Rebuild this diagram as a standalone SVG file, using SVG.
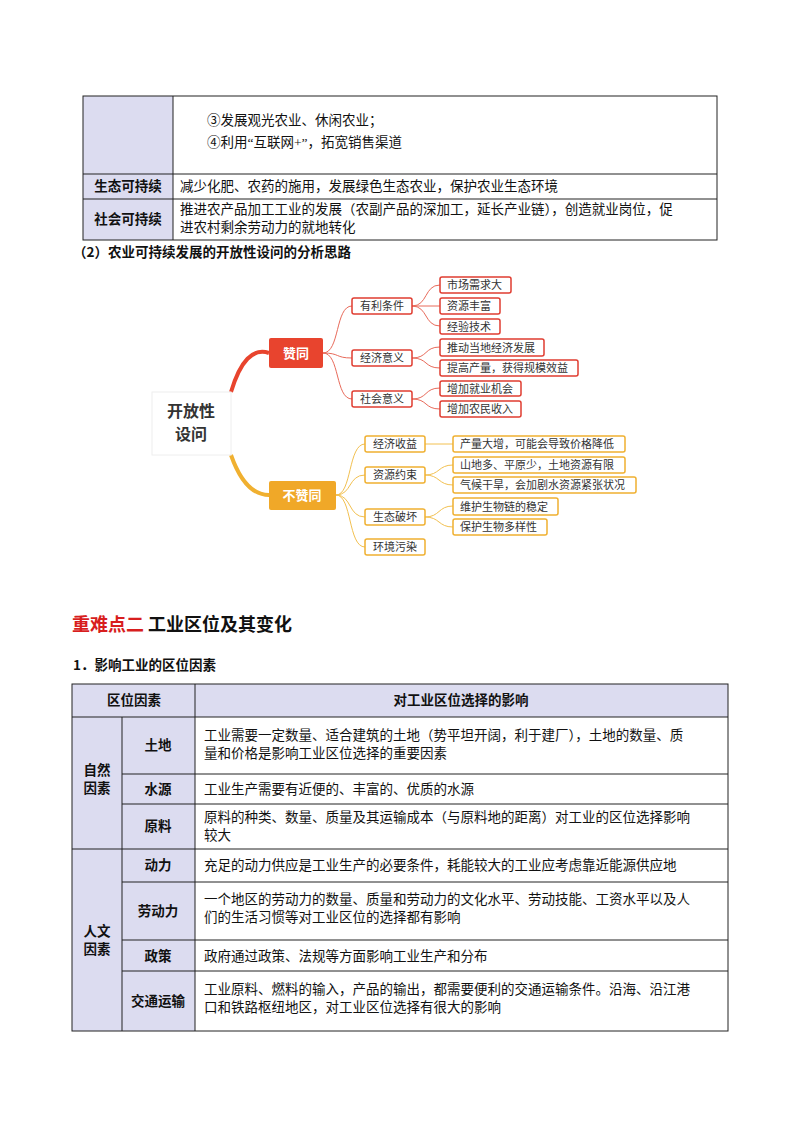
<svg xmlns="http://www.w3.org/2000/svg" width="800" height="1132" viewBox="0 0 800 1132">
<style>
.t{font-family:"Liberation Serif","Noto Sans CJK SC",serif;font-size:13.5px;fill:#111}
.b{font-family:"Noto Sans CJK SC",sans-serif;font-size:13.5px;font-weight:bold;fill:#111}
.g{fill:none;stroke:#222;stroke-width:1}
.sh{fill:#dcdcf0}
.m{font-family:"Noto Sans CJK SC",sans-serif;font-size:11px;fill:#333}
.rb{fill:#fff;stroke:#e03c30;stroke-width:1.5}
.ob{fill:#fff;stroke:#f0b030;stroke-width:1.5}
.rl{fill:none;stroke:#e86a5a;stroke-width:1}
.ol{fill:none;stroke:#f2c050;stroke-width:1}
</style>
<rect width="800" height="1132" fill="#fff"/>
<g id="table1">
<rect class="sh" x="83" y="96" width="90" height="78"/>
<rect class="sh" x="83" y="174" width="90" height="66"/>
<rect class="g" x="83" y="96" width="634" height="144"/>
<line class="g" x1="173" y1="96" x2="173" y2="240"/>
<line class="g" x1="83" y1="174" x2="717" y2="174"/>
<line class="g" x1="83" y1="199" x2="717" y2="199"/>
<text class="t" x="180" y="125">　　③发展观光农业、休闲农业；</text>
<text class="t" x="180" y="147">　　④利用“互联网+”，拓宽销售渠道</text>
<text class="b" x="128" y="191" text-anchor="middle">生态可持续</text>
<text class="t" x="180" y="191">减少化肥、农药的施用，发展绿色生态农业，保护农业生态环境</text>
<text class="b" x="128" y="224" text-anchor="middle">社会可持续</text>
<text class="t" x="180" y="214">推进农产品加工工业的发展（农副产品的深加工，延长产业链），创造就业岗位，促</text>
<text class="t" x="180" y="232">进农村剩余劳动力的就地转化</text>
</g>
<text class="b" x="73" y="257">（2）农业可持续发展的开放性设问的分析思路</text>
<g id="connectors">
<path d="M231,392 Q245,345 269,353" fill="none" stroke="#e8442e" stroke-width="4"/>
<path d="M231,455 Q245,495 269,495" fill="none" stroke="#f0b030" stroke-width="4"/>
<path class="rl" d="M323,353 C340,353 335,306 352,306 M323,353 C340,353 335,358 352,358 M323,353 C340,353 335,399 352,399"/>
<path class="rl" d="M412,306 C428,306 424,285 440,285 M412,306 L440,306 M412,306 C428,306 424,326 440,326"/>
<path class="rl" d="M412,358 C428,358 424,347 440,347 M412,358 C428,358 424,368 440,368"/>
<path class="rl" d="M412,399 C428,399 424,388 440,388 M412,399 C428,399 424,409 440,409"/>
<path class="ol" d="M336,495 C352,495 348,444 365,444 M336,495 C352,495 348,475 365,475 M336,495 C352,495 348,517 365,517 M336,495 C352,495 348,547 365,547"/>
<path class="ol" d="M425,444 L453,444 M425,475 C440,475 438,465 453,465 M425,475 C440,475 438,485 453,485 M425,517 C440,517 438,506 453,506 M425,517 C440,517 438,527 453,527"/>
</g>
<g id="center"><rect x="152" y="392" width="79" height="63" fill="#fff" stroke="#eee"/>
<text x="191" y="417" text-anchor="middle" style="font-family:'Noto Sans CJK SC',sans-serif;font-size:16px;font-weight:bold;fill:#333">开放性</text>
<text x="191" y="440" text-anchor="middle" style="font-family:'Noto Sans CJK SC',sans-serif;font-size:16px;font-weight:bold;fill:#333">设问</text></g>
<g id="zantong"><rect x="269" y="338" width="54" height="30" rx="2" fill="#e8442e"/><text x="296" y="358" text-anchor="middle" style="font-family:'Noto Sans CJK SC',sans-serif;font-size:13px;font-weight:bold;fill:#fff">赞同</text></g>
<g id="buzantong"><rect x="269" y="481" width="67" height="29" rx="2" fill="#f0a828"/><text x="302" y="500" text-anchor="middle" style="font-family:'Noto Sans CJK SC',sans-serif;font-size:13px;font-weight:bold;fill:#fff">不赞同</text></g>
<g id="r1"><rect class="rb" x="352" y="298" width="60" height="16" rx="2"/><text class="m" x="382" y="310" text-anchor="middle">有利条件</text></g>
<g id="r2"><rect class="rb" x="352" y="350" width="60" height="16" rx="2"/><text class="m" x="382" y="362" text-anchor="middle">经济意义</text></g>
<g id="r3"><rect class="rb" x="352" y="391" width="60" height="16" rx="2"/><text class="m" x="382" y="403" text-anchor="middle">社会意义</text></g>
<g id="r11"><rect class="rb" x="440" y="277" width="71" height="16" rx="2"/><text class="m" x="447" y="289">市场需求大</text></g>
<g id="r12"><rect class="rb" x="440" y="298" width="60" height="16" rx="2"/><text class="m" x="447" y="310">资源丰富</text></g>
<g id="r13"><rect class="rb" x="440" y="319" width="60" height="15" rx="2"/><text class="m" x="447" y="331">经验技术</text></g>
<g id="r21"><rect class="rb" x="440" y="339" width="104" height="17" rx="2"/><text class="m" x="447" y="352">推动当地经济发展</text></g>
<g id="r22"><rect class="rb" x="440" y="360" width="138" height="16" rx="2"/><text class="m" x="447" y="372">提高产量，获得规模效益</text></g>
<g id="r31"><rect class="rb" x="440" y="381" width="81" height="15" rx="2"/><text class="m" x="447" y="393">增加就业机会</text></g>
<g id="r32"><rect class="rb" x="440" y="401" width="81" height="16" rx="2"/><text class="m" x="447" y="413">增加农民收入</text></g>
<g id="o1"><rect class="ob" x="365" y="436" width="60" height="16" rx="2"/><text class="m" x="395" y="448" text-anchor="middle">经济收益</text></g>
<g id="o2"><rect class="ob" x="365" y="467" width="60" height="16" rx="2"/><text class="m" x="395" y="479" text-anchor="middle">资源约束</text></g>
<g id="o3"><rect class="ob" x="365" y="509" width="60" height="16" rx="2"/><text class="m" x="395" y="521" text-anchor="middle">生态破坏</text></g>
<g id="o4"><rect class="ob" x="365" y="539" width="60" height="16" rx="2"/><text class="m" x="395" y="551" text-anchor="middle">环境污染</text></g>
<g id="o11"><rect class="ob" x="453" y="436" width="172" height="16" rx="2"/><text class="m" x="460" y="448">产量大增，可能会导致价格降低</text></g>
<g id="o21"><rect class="ob" x="453" y="457" width="172" height="16" rx="2"/><text class="m" x="460" y="469">山地多、平原少，土地资源有限</text></g>
<g id="o22"><rect class="ob" x="453" y="477" width="183" height="16" rx="2"/><text class="m" x="460" y="489">气候干旱，会加剧水资源紧张状况</text></g>
<g id="o31"><rect class="ob" x="453" y="498" width="105" height="17" rx="2"/><text class="m" x="460" y="511">维护生物链的稳定</text></g>
<g id="o32"><rect class="ob" x="453" y="519" width="94" height="16" rx="2"/><text class="m" x="460" y="531">保护生物多样性</text></g>
<text x="72" y="631" style="font-family:'Noto Sans CJK SC',sans-serif;font-size:18px;font-weight:bold"><tspan fill="#d81e1e">重难点二</tspan><tspan fill="#111">  工业区位及其变化</tspan></text>
<text class="b" x="73" y="670">1．影响工业的区位因素</text>
<g id="table2">
<rect class="sh" x="72" y="684" width="656" height="33"/>
<rect class="sh" x="72" y="717" width="123" height="314"/>
<rect class="g" x="72" y="684" width="656" height="347"/>
<line class="g" x1="195" y1="684" x2="195" y2="1031"/>
<line class="g" x1="122" y1="717" x2="122" y2="1031"/>
<line class="g" x1="72" y1="717" x2="728" y2="717"/>
<line class="g" x1="122" y1="774" x2="728" y2="774"/>
<line class="g" x1="122" y1="804" x2="728" y2="804"/>
<line class="g" x1="72" y1="849" x2="728" y2="849"/>
<line class="g" x1="122" y1="882" x2="728" y2="882"/>
<line class="g" x1="122" y1="940" x2="728" y2="940"/>
<line class="g" x1="122" y1="971" x2="728" y2="971"/>
<text class="b" x="134" y="705" text-anchor="middle">区位因素</text>
<text class="b" x="461" y="705" text-anchor="middle">对工业区位选择的影响</text>
<text class="b" x="97" y="775" text-anchor="middle">自然</text>
<text class="b" x="97" y="793" text-anchor="middle">因素</text>
<text class="b" x="97" y="936" text-anchor="middle">人文</text>
<text class="b" x="97" y="954" text-anchor="middle">因素</text>
<text class="b" x="158" y="750" text-anchor="middle">土地</text>
<text class="b" x="158" y="794" text-anchor="middle">水源</text>
<text class="b" x="158" y="831" text-anchor="middle">原料</text>
<text class="b" x="158" y="870" text-anchor="middle">动力</text>
<text class="b" x="158" y="916" text-anchor="middle">劳动力</text>
<text class="b" x="158" y="961" text-anchor="middle">政策</text>
<text class="b" x="158" y="1006" text-anchor="middle">交通运输</text>
<text class="t" x="204" y="740">工业需要一定数量、适合建筑的土地（势平坦开阔，利于建厂），土地的数量、质</text>
<text class="t" x="204" y="758">量和价格是影响工业区位选择的重要因素</text>
<text class="t" x="204" y="794">工业生产需要有近便的、丰富的、优质的水源</text>
<text class="t" x="204" y="822">原料的种类、数量、质量及其运输成本（与原料地的距离）对工业的区位选择影响</text>
<text class="t" x="204" y="840">较大</text>
<text class="t" x="204" y="870">充足的动力供应是工业生产的必要条件，耗能较大的工业应考虑靠近能源供应地</text>
<text class="t" x="204" y="904">一个地区的劳动力的数量、质量和劳动力的文化水平、劳动技能、工资水平以及人</text>
<text class="t" x="204" y="922">们的生活习惯等对工业区位的选择都有影响</text>
<text class="t" x="204" y="961">政府通过政策、法规等方面影响工业生产和分布</text>
<text class="t" x="204" y="994">工业原料、燃料的输入，产品的输出，都需要便利的交通运输条件。沿海、沿江港</text>
<text class="t" x="204" y="1012">口和铁路枢纽地区，对工业区位选择有很大的影响</text>
</g>
</svg>
